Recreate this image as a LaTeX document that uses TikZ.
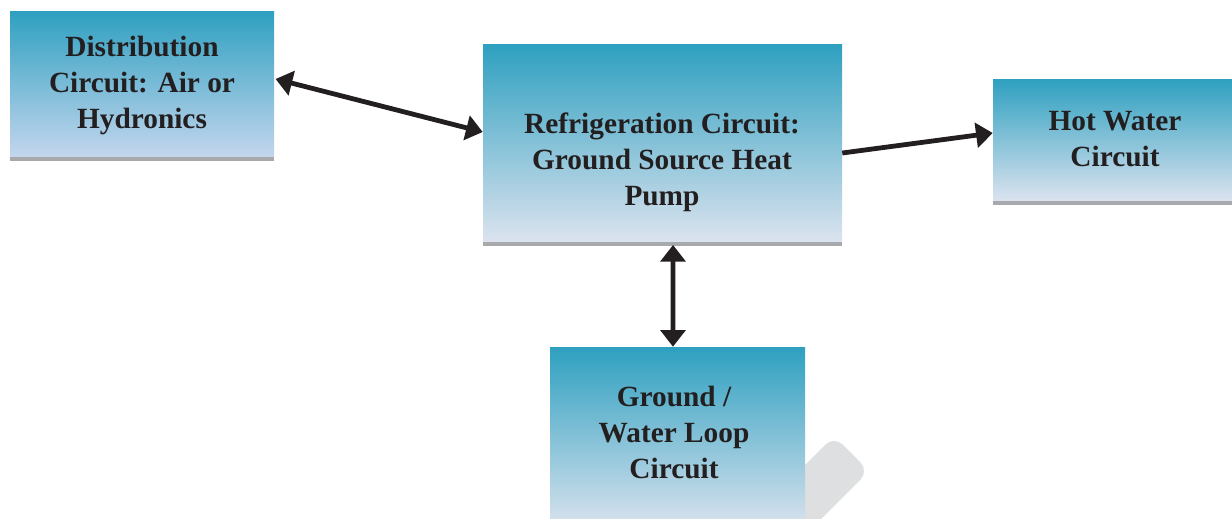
\documentclass[tikz,border=0pt]{standalone}
\usepackage{fontspec}
\setmainfont{Liberation Serif}
\usetikzlibrary{arrows.meta}
\definecolor{tealtop}{RGB}{46,160,192}
\definecolor{lightbot}{RGB}{220,227,239}
\definecolor{bluebot}{RGB}{196,214,238}
\definecolor{barcol}{RGB}{167,169,172}
\definecolor{txtcol}{RGB}{35,31,32}
\definecolor{ghost}{RGB}{222,223,224}
\tikzset{
  box/.style={rectangle, inner sep=0pt, draw=none, top color=tealtop, bottom color=lightbot},
  boxtext/.style={align=center, text=txtcol, font=\fontsize{22pt}{27pt}\selectfont\bfseries, inner sep=0pt},
  bar/.style={draw=barcol, line width=3pt},
  tip/.style={Triangle[length=12.5pt,width=18.5pt]},
  conn/.style={line width=3.6pt, draw=txtcol, {Triangle[length=12.5pt,width=18.5pt]}-{Triangle[length=12.5pt,width=18.5pt]}},
  oneway/.style={line width=3.6pt, draw=txtcol, -{Triangle[length=12.5pt,width=18.5pt]}}
}
\begin{document}
\begin{tikzpicture}[x=0.75pt,y=-0.75pt]
\useasboundingbox (0,0) rectangle (1232,518);
\begin{scope}
\clip (0,0) rectangle (1232,518);
\fill[ghost, rounded corners=9pt] (834,436) -- (869,471) -- (719,621) -- (684,586) -- cycle;
\node[box, bottom color=bluebot, minimum width=198pt, minimum height=109.5pt] (b1) at (142,84) {};
\node[box, minimum width=269.25pt, minimum height=148.5pt] (b2) at (662.5,143) {};
\node[box, minimum width=191.25pt, minimum height=137.25pt] (b3) at (677.5,438.5) {};
\node[box, minimum width=185.25pt, minimum height=91.5pt] (b4) at (1116.5,140) {};
\draw[bar] ([yshift=-1.5pt]b1.south west) -- ([yshift=-1.5pt]b1.south east);
\draw[bar] ([yshift=-1.5pt]b2.south west) -- ([yshift=-1.5pt]b2.south east);
\draw[bar] ([yshift=-1.5pt]b4.south west) -- ([yshift=-1.5pt]b4.south east);
\end{scope}
\node[boxtext] (t1) at (142,85) {Distribution\\Circuit: Air or\\Hydronics};
\node[boxtext] (t2) at (662,162) {Refrigeration Circuit:\\Ground Source Heat\\Pump};
\node[boxtext] (t3) at (674,432) {Ground /\\Water Loop\\Circuit};
\node[boxtext] (t4) at (1115,139) {Hot Water\\Circuit};
\draw[conn] ([xshift=1pt,yshift=3.75pt]b1.east) -- ([yshift=8.25pt]b2.west);
\draw[oneway] ([yshift=-7.5pt]b2.east) -- ([yshift=5.25pt]b4.west);
\draw[conn] ([xshift=7.9pt,yshift=-2pt]b2.south) -- ([xshift=-3.4pt]b3.north);
\end{tikzpicture}
\end{document}
